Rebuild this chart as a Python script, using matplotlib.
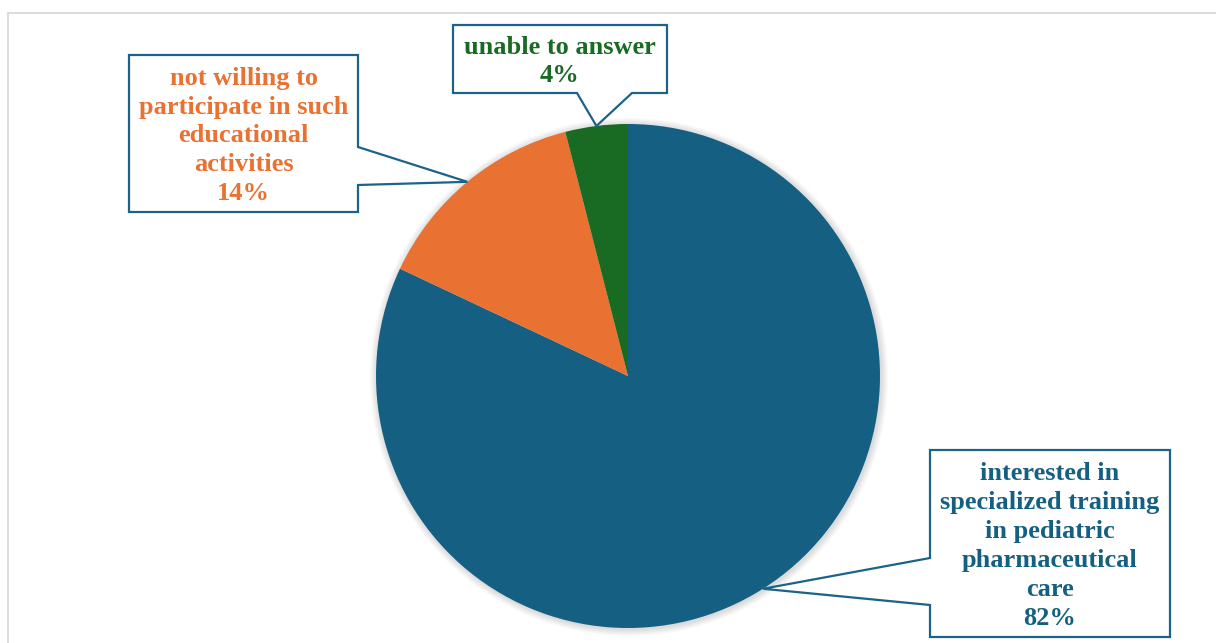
import numpy as np
import matplotlib.pyplot as plt
from matplotlib.patches import Polygon, Rectangle, Circle

labels = ["interested in\nspecialized training\nin pediatric\npharmaceutical\ncare",
          "not willing to\nparticipate in such\neducational\nactivities",
          "unable to answer"]
values = [82, 14, 4]
colors = ["#156082", "#E97132", "#196B24"]

W, H = 1216, 643
fig = plt.figure(figsize=(W / 100, H / 100), dpi=100)
ax = fig.add_axes([0, 0, 1, 1])
ax.set_xlim(0, W)
ax.set_ylim(0, H)
ax.set_aspect("equal")
ax.axis("off")

def py(y):  # pixel row -> data y
    return H - y

# chart area border (light gray)
ax.add_patch(Rectangle((8, py(H + 5)), W, H + 5 - 13, fill=False,
                       edgecolor="#D9D9D9", lw=1.3))

cx, cy, R = 628, py(376), 252

# soft shadow behind the pie
for k in range(6):
    ax.add_patch(Circle((cx + 1, cy - 1), R + 1 + k * 1.2, color="black",
                        alpha=0.025, lw=0, zorder=1))

wedges, _ = ax.pie(values, colors=colors, startangle=90, counterclock=False,
                   center=(cx, cy), radius=R, frame=True,
                   wedgeprops=dict(linewidth=0, zorder=2))
ax.set_xlim(0, W)
ax.set_ylim(0, H)
ax.axis("off")

# callout boxes: (left, top, right, bottom) in pixels, side of the pointer, pointer base span
boxes = [
    ((930, 450, 1170, 637), "left", (558, 605)),
    ((129, 55, 358, 212), "right", (147, 185)),
    ((453, 25, 667, 93), "bottom", (577, 632)),
]

edge = "#1B6388"
for w, lab, v, col, (bx, side, span) in zip(wedges, labels, values, colors, boxes):
    ang = np.deg2rad((w.theta1 + w.theta2) / 2)
    tip = (cx + R * np.cos(ang), cy + R * np.sin(ang))
    l, t, r, b = bx
    L, T, Rr, B = l, py(t), r, py(b)
    if side == "right":
        pts = [(L, T), (Rr, T), (Rr, py(span[0])), tip, (Rr, py(span[1])), (Rr, B), (L, B)]
    elif side == "left":
        pts = [(L, T), (Rr, T), (Rr, B), (L, B), (L, py(span[1])), tip, (L, py(span[0]))]
    else:
        pts = [(L, T), (Rr, T), (Rr, B), (span[1], B), tip, (span[0], B), (L, B)]
    ax.add_patch(Polygon(pts, closed=True, facecolor="white", edgecolor=edge,
                         lw=1.6, zorder=5))
    ax.text((L + Rr) / 2, (T + B) / 2 - 2.5, f"{lab}\n{v}%", ha="center", va="center",
            color=col, fontsize=19, fontweight="bold", family="Liberation Serif",
            linespacing=1.33, zorder=6)

fig.savefig("out.png", dpi=100)
